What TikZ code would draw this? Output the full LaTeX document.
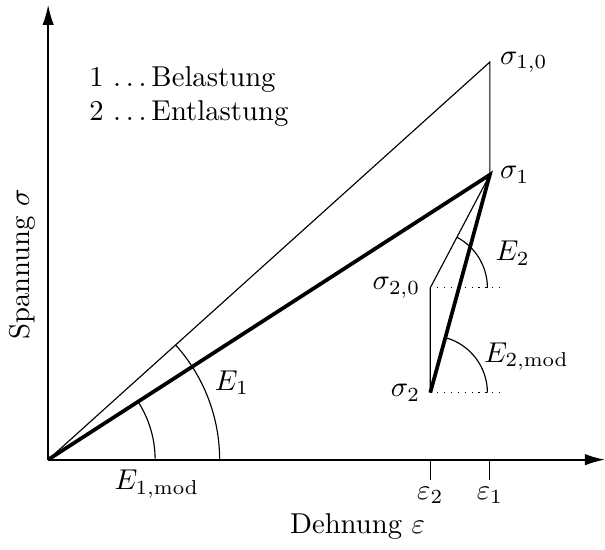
\documentclass[tikz,border=0pt]{standalone}
\usepackage{tikz}
\usetikzlibrary{arrows.meta, positioning}
\usepackage{amsmath}

\newcommand{\punkte}{.\kern.166em.\kern.166em.\kern.166em}

\begin{document}
\begin{tikzpicture}[>={Latex[length=7pt,width=4pt]},
        axis/.style={semithick},
        kurve/.style={line width=1.3pt},
        hilf/.style={dotted}]
    \useasboundingbox (-0.59,-1.10) rectangle (6.82,5.63);

    % Achsen
    \coordinate (O) at (0,0);
    \coordinate (xend) at (6.82,0);
    \coordinate (yend) at (0,5.57);
    \draw[axis, ->] (O) -- (xend);
    \draw[axis, ->] (O) -- (yend);
    \node (xlabel) at (3.79,-0.82) {Dehnung $\varepsilon$};
    \node (ylabel) [rotate=90] at (-0.32,2.39) {Spannung $\sigma$};

    % Punkte
    \coordinate (s10) at (5.41,4.87);
    \coordinate (s1) at (5.41,3.49);
    \coordinate (s20) at (4.68,2.105);
    \coordinate (s2) at (4.68,0.82);
    \coordinate (e1) at (5.41,0);
    \coordinate (e2) at (4.68,0);
    \coordinate (d20) at (5.53,2.105);
    \coordinate (d2) at (5.53,0.82);

    % Linien
    \draw (O) -- (s10) -- (s1);
    \draw (s1) -- (s20) -- (s2);
    \draw[kurve] (O) -- (s1) -- (s2);
    \draw[hilf] (s20) -- (d20);
    \draw[hilf] (s2) -- (d2);

    % Striche auf der x-Achse
    \draw (e2) -- ++(0,-0.245) coordinate (t2);
    \draw (e1) -- ++(0,-0.245) coordinate (t1);
    \node (le2) [below=-1pt of t2] {$\varepsilon_2$};
    \node (le1) [below=-1pt of t1] {$\varepsilon_1$};

    % Winkel
    \draw (1.31,0) arc[start angle=0, end angle=32.83, radius=1.31];
    \draw (2.1,0) arc[start angle=0, end angle=41.99, radius=2.1];
    \draw (s20) ++(0.7,0) arc[start angle=0, end angle=62.2, radius=0.7];
    \draw (s2) ++(0.7,0) arc[start angle=0, end angle=74.7, radius=0.7];

    % Beschriftung
    \node (l10) [anchor=west] at (s10) {$\sigma_{1,0}$};
    \node (l1) [anchor=west] at (s1) {$\sigma_1$};
    \node (l20) [anchor=east] at (s20) {$\sigma_{2,0}$};
    \node (l2) [anchor=east] at (s2) {$\sigma_2$};
    \node (E1mod) at (1.33,-0.3) {$E_{1,\text{mod}}$};
    \node (E1) at (2.25,0.94) {$E_1$};
    \node (E2) at (5.69,2.53) {$E_2$};
    \node (E2mod) at (5.86,1.26) {$E_{2,\text{mod}}$};
    \node (legende) [align=left, anchor=west] at (0.38,4.45)
        {1 \punkte Belastung\\2 \punkte Entlastung};
\end{tikzpicture}
\end{document}
